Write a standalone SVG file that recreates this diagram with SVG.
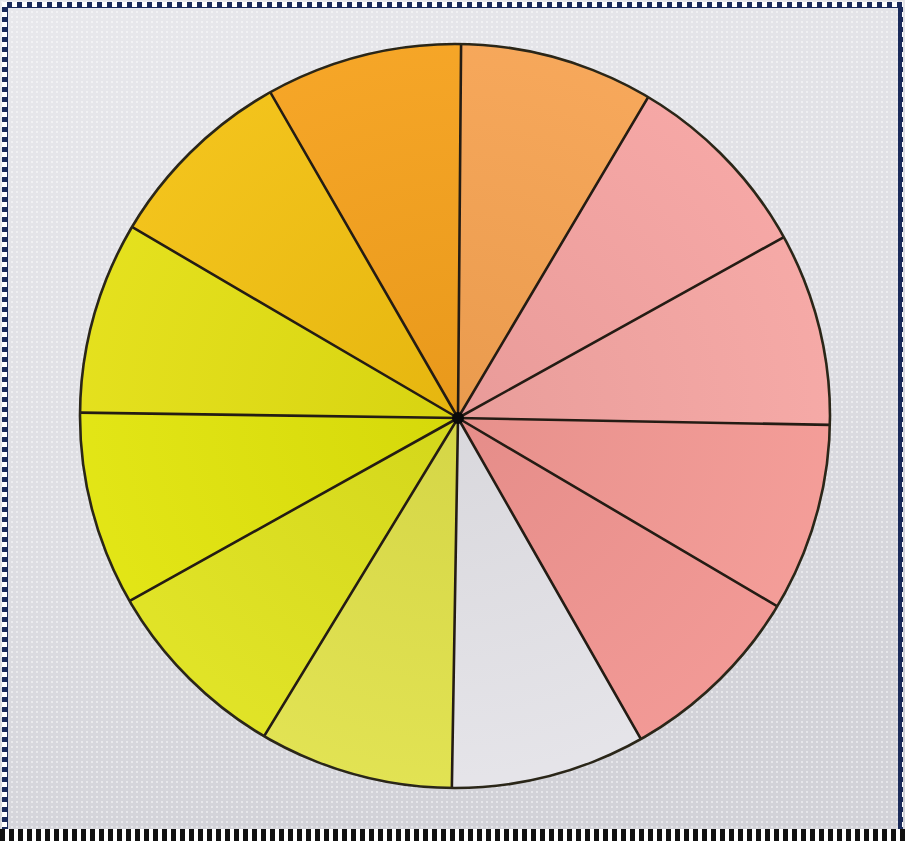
<svg xmlns="http://www.w3.org/2000/svg" width="905" height="841" viewBox="0 0 905 841">
  <defs>
    <linearGradient id="bg" x1="0" y1="0" x2="0.3" y2="1">
      <stop offset="0" stop-color="#e8e8ec"/>
      <stop offset="0.6" stop-color="#dedee3"/>
      <stop offset="1" stop-color="#d2d2d8"/>
    </linearGradient>
    <pattern id="dots" width="5" height="5" patternUnits="userSpaceOnUse">
      <rect x="1" y="1" width="2" height="2" fill="#ffffff" opacity="0.45"/>
    </pattern>
    <pattern id="edge" width="10" height="10" patternUnits="userSpaceOnUse">
      <rect width="10" height="10" fill="#1a2a5a"/>
      <rect x="2" y="2" width="5" height="5" fill="#ffffff"/>
    </pattern>
    <pattern id="bottomedge" width="9" height="12" patternUnits="userSpaceOnUse">
      <rect width="9" height="12" fill="#111111"/>
      <rect x="5" y="0" width="4" height="12" fill="#ffffff"/>
    </pattern>
    <radialGradient id="shade" cx="0.5" cy="0.5" r="0.5">
      <stop offset="0" stop-color="#000" stop-opacity="0.05"/>
      <stop offset="1" stop-color="#fff" stop-opacity="0.05"/>
    </radialGradient>
    <clipPath id="disc">
      <ellipse cx="455" cy="416" rx="375" ry="372"/>
    </clipPath>
  </defs>
  <style>
    .spoke { stroke: #241c14; stroke-width: 2.6; stroke-linecap: round; }
    .rim { fill: none; stroke: #2a2618; stroke-width: 2.6; }
    .w { stroke: none; }
  </style>

  <g id="background">
    <rect x="0" y="0" width="905" height="841" fill="url(#bg)"/>
    <rect x="0" y="0" width="905" height="841" fill="url(#dots)"/>
    <rect x="2" y="2" width="901" height="6" fill="url(#edge)"/>
    <rect x="2" y="2" width="6" height="828" fill="url(#edge)"/>
    <rect x="898" y="2" width="5" height="828" fill="url(#edge)"/>
    <rect x="0" y="829" width="905" height="12" fill="url(#bottomedge)"/>
  </g>

  <g id="wheel" clip-path="url(#disc)">
    <g id="w1"><polygon class="w" fill="#f6a352" points="458,418 462,-67 701,8"/></g>
    <g id="w2"><polygon class="w" fill="#f5a3a1" points="458,418 701,8 874,187"/></g>
    <g id="w3"><polygon class="w" fill="#f5a5a2" points="458,418 874,187 942,427"/></g>
    <g id="w4"><polygon class="w" fill="#f39893" points="458,418 942,427 870,661"/></g>
    <g id="w5"><polygon class="w" fill="#f19490" points="458,418 870,661 695,834"/></g>
    <g id="w6"><polygon class="w" fill="#e4e3e8" points="458,418 695,834 450,899"/></g>
    <g id="w7"><polygon class="w" fill="#e0e14a" points="458,418 450,899 207,830"/></g>
    <g id="w8"><polygon class="w" fill="#dfe21c" points="458,418 207,830 38,652"/></g>
    <g id="w9"><polygon class="w" fill="#e1e40a" points="458,418 38,652 -33,411"/></g>
    <g id="w10"><polygon class="w" fill="#e3df12" points="458,418 -33,411 45,176"/></g>
    <g id="w11"><polygon class="w" fill="#f2c010" points="458,418 45,176 220,5"/></g>
    <g id="w12"><polygon class="w" fill="#f5a11c" points="458,418 220,5 462,-67"/></g>
    <ellipse cx="455" cy="416" rx="375" ry="372" fill="url(#shade)"/>
  </g>

  <g id="spokes" clip-path="url(#disc)">
    <line class="spoke" x1="458" y1="418" x2="462" y2="-67"/>
    <line class="spoke" x1="458" y1="418" x2="701" y2="8"/>
    <line class="spoke" x1="458" y1="418" x2="874" y2="187"/>
    <line class="spoke" x1="458" y1="418" x2="942" y2="427"/>
    <line class="spoke" x1="458" y1="418" x2="870" y2="661"/>
    <line class="spoke" x1="458" y1="418" x2="695" y2="834"/>
    <line class="spoke" x1="458" y1="418" x2="450" y2="899"/>
    <line class="spoke" x1="458" y1="418" x2="207" y2="830"/>
    <line class="spoke" x1="458" y1="418" x2="38" y2="652"/>
    <line class="spoke" x1="458" y1="418" x2="-33" y2="411"/>
    <line class="spoke" x1="458" y1="418" x2="45" y2="176"/>
    <line class="spoke" x1="458" y1="418" x2="220" y2="5"/>
  </g>

  <g id="rim">
    <ellipse class="rim" cx="455" cy="416" rx="375" ry="372"/>
    <circle cx="458" cy="418" r="6" fill="#0a0a0a"/>
  </g>
</svg>
